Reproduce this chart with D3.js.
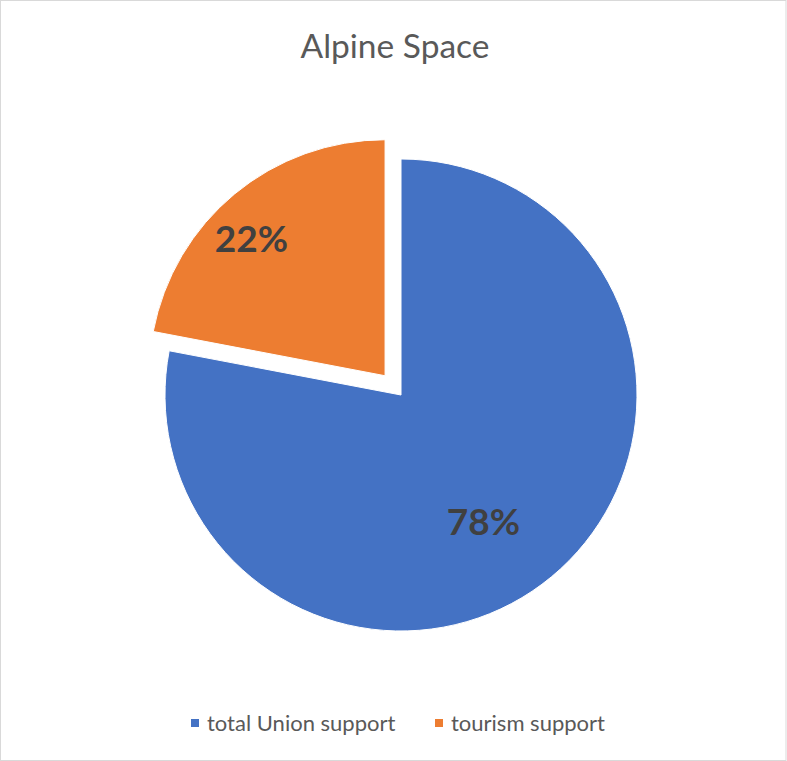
<!DOCTYPE html>
<html><head><meta charset="utf-8">
<script src="https://cdn.jsdelivr.net/npm/d3@7"></script>
<style>body{margin:0;background:#fff}svg{display:block}</style>
</head><body>
<script>
const title = "Alpine Space";
const categories = ["total Union support", "tourism support"];
const values = [78, 22];
const colors = ["#4472C4", "#ED7D31"];
const explode = [0, 25];
const labelFactor = [0.64, 0.81];
const labelAngleNudge = [6.5, -4.8]; // degrees

const W = 787, H = 761;
const svg = d3.select("body").append("svg").attr("width", W).attr("height", H);
svg.append("rect").attr("x", 0.5).attr("y", 0.5).attr("width", W - 1.5).attr("height", H - 1)
  .attr("fill", "#fff").attr("stroke", "#d9d9d9");

svg.append("text").attr("x", 395).attr("y", 58).attr("text-anchor", "middle")
  .attr("font-family", "Lato, 'Open Sans', sans-serif").attr("font-size", 33.5)
  .attr("fill", "#595959").text(title);

const cx = 401, cy = 395, r = 236;
const pie = d3.pie().sort(null).value(d => d)(values);
const arc = d3.arc().innerRadius(0).outerRadius(r);
const g = svg.append("g").attr("transform", `translate(${cx},${cy})`);
pie.forEach((p, i) => {
  const mid = (p.startAngle + p.endAngle) / 2;
  const ox = Math.sin(mid) * explode[i], oy = -Math.cos(mid) * explode[i];
  const sg = g.append("g").attr("transform", `translate(${ox},${oy})`);
  sg.append("path").attr("d", arc(p)).attr("fill", colors[i]).attr("stroke", "#fff").attr("stroke-width", 1);
  const lr = r * labelFactor[i];
  const la = mid + labelAngleNudge[i] * Math.PI / 180;
  sg.append("text").attr("x", Math.sin(la) * lr).attr("y", -Math.cos(la) * lr)
    .attr("text-anchor", "middle").attr("dy", "0.36em")
    .attr("font-family", "Lato, 'Open Sans', sans-serif").attr("font-weight", "bold")
    .attr("font-size", 37).attr("fill", "#404040")
    .text(Math.round(p.value) + "%");
});

const leg = svg.append("g").attr("font-family", "Lato, 'Open Sans', sans-serif").attr("font-size", 22).attr("fill", "#595959");
const legX = [191, 435];
categories.forEach((c, i) => {
  leg.append("rect").attr("x", legX[i]).attr("y", 719).attr("width", 8).attr("height", 8).attr("fill", colors[i]);
  leg.append("text").attr("x", legX[i] + 16).attr("y", 731).text(c);
});
</script>
</body></html>
